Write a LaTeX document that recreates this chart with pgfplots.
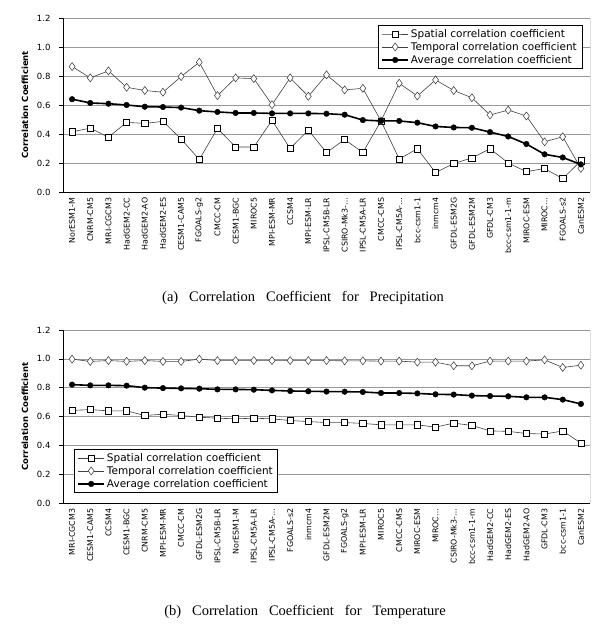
\documentclass[border=0pt]{standalone}
\usepackage{pgfplots}
\pgfplotsset{compat=1.18}
\usepackage{pgfplotstable}
\usepackage{fontspec}
\setmainfont{Liberation Serif}
\newfontfamily\dejavu{DejaVu Sans}

\pgfplotstableread{
x sp tp av
0 0.415 0.865 0.640
1 0.440 0.787 0.614
2 0.378 0.835 0.609
3 0.480 0.722 0.600
4 0.473 0.700 0.588
5 0.487 0.688 0.586
6 0.365 0.796 0.582
7 0.224 0.895 0.561
8 0.438 0.665 0.552
9 0.310 0.787 0.545
10 0.310 0.782 0.545
11 0.494 0.602 0.542
12 0.300 0.787 0.542
13 0.427 0.660 0.542
14 0.272 0.808 0.540
15 0.362 0.704 0.533
16 0.272 0.715 0.496
17 0.490 0.490 0.490
18 0.228 0.750 0.490
19 0.298 0.662 0.478
20 0.134 0.773 0.452
21 0.196 0.700 0.445
22 0.235 0.650 0.443
23 0.298 0.531 0.413
24 0.200 0.565 0.383
25 0.140 0.524 0.331
26 0.162 0.346 0.260
27 0.092 0.381 0.238
28 0.215 0.162 0.190
}\precip

\pgfplotstableread{
x sp tp av
0 0.642 0.998 0.821
1 0.648 0.982 0.816
2 0.639 0.988 0.816
3 0.639 0.982 0.814
4 0.607 0.988 0.800
5 0.616 0.982 0.797
6 0.607 0.982 0.795
7 0.595 0.998 0.793
8 0.588 0.988 0.788
9 0.584 0.988 0.788
10 0.588 0.988 0.786
11 0.584 0.988 0.781
12 0.572 0.988 0.777
13 0.565 0.988 0.775
14 0.558 0.988 0.773
15 0.558 0.986 0.772
16 0.552 0.986 0.770
17 0.542 0.984 0.763
18 0.542 0.984 0.763
19 0.542 0.977 0.760
20 0.526 0.977 0.754
21 0.554 0.952 0.752
22 0.538 0.952 0.745
23 0.500 0.984 0.742
24 0.497 0.984 0.740
25 0.482 0.984 0.733
26 0.478 0.993 0.733
27 0.500 0.940 0.717
28 0.415 0.956 0.687
}\temper

\pgfplotsset{
  corrstyle/.style={
    scale only axis,
    width=527pt,
    xmin=-0.5, xmax=28.5,
    ymin=0, ymax=1.2,
    xtick={0,...,28},
    minor xtick={-0.5,0.5,...,28.5},
    ytick={0,0.2,...,1.2},
    tick align=outside,
    major tick length=4pt,
    minor tick length=4pt,
    xtick style={draw=none},
    minor x tick style={black, line width=0.6pt},
    ytick style={black, line width=0.6pt},
    axis x line*=bottom,
    axis y line*=left,
    axis line style={black, line width=0.7pt, -},
    ymajorgrids,
    major grid style={color=black!40, line width=0.5pt},
    /pgf/number format/assume math mode=true,
    yticklabel style={font=\dejavu\fontsize{8.5}{10}\selectfont, xshift=-5pt,
      /pgf/number format/.cd, fixed, fixed zerofill, precision=1},
    xticklabel style={font=\dejavu\fontsize{7.9}{9}\selectfont, rotate=90, anchor=east, inner sep=1.5pt},
    ylabel={Correlation Coefficient},
    ylabel style={font=\dejavu\bfseries\fontsize{8.5}{10}\selectfont, at={(axis description cs:-0.072,0.5)}, anchor=center},
    legend style={font=\dejavu\fontsize{10.5}{12}\selectfont, draw=black, line width=0.6pt, fill=white,
      cells={anchor=west}, inner xsep=3pt, inner ysep=2pt, row sep=-0.5pt},
    legend image code/.code={\draw[mark repeat=2,mark phase=2] plot coordinates {(0pt,0pt)(13pt,0pt)(26pt,0pt)};},
  },
  spst/.style={color=black!75, line width=0.6pt, mark=square*, mark size=3.1pt,
    mark options={fill=white, draw=black, line width=0.6pt}},
  tpst/.style={color=black!75, line width=0.6pt, mark=diamond*, mark size=4pt,
    mark options={fill=white, draw=black!80, line width=0.5pt}},
  avst/.style={color=black, line width=1.6pt, mark=*, mark size=2.8pt,
    mark options={fill=black, draw=black, line width=0.4pt}},
}

\begin{document}
\begin{tikzpicture}
\useasboundingbox (0,0) rectangle (607pt,626pt);

\begin{axis}[corrstyle,
  at={(63pt,434pt)}, anchor=south west, height=174pt,
  xticklabels={NorESM1-M,CNRM-CM5,MRI-CGCM3,HadGEM2-CC,HadGEM2-AO,HadGEM2-ES,CESM1-CAM5,FGOALS-g2,CMCC-CM,CESM1-BGC,MIROC5,MPI-ESM-MR,CCSM4,MPI-ESM-LR,IPSL-CM5B-LR,CSIRO-Mk3-…,IPSL-CM5A-LR,CMCC-CMS,IPSL-CM5A-…,bcc-csm1-1,inmcm4,GFDL-ESM2G,GFDL-ESM2M,GFDL-CM3,bcc-csm1-1-m,MIROC-ESM,MIROC…,FGOALS-s2,CanESM2},
  legend style={at={(0.985,0.96)}, anchor=north east},
]
\addplot[spst] table[x=x, y=sp] {\precip};
\addlegendentry{Spatial correlation coefficient}
\addplot[tpst] table[x=x, y=tp] {\precip};
\addlegendentry{Temporal correlation coefficient}
\addplot[avst] table[x=x, y=av] {\precip};
\addlegendentry{Average correlation coefficient}
\draw[black, line width=0.7pt] (rel axis cs:1,0) -- (rel axis cs:1,1);
\end{axis}

\node[font=\fontsize{14.5}{17}\selectfont] at (303pt,328pt) {(a)\ \ \ Correlation\ \ \ Coefficient\ \ \ for\ \ \ Precipitation};

\begin{axis}[corrstyle,
  at={(63pt,123pt)}, anchor=south west, height=173pt,
  xticklabels={MRI-CGCM3,CESM1-CAM5,CCSM4,CESM1-BGC,CNRM-CM5,MPI-ESM-MR,CMCC-CM,GFDL-ESM2G,IPSL-CM5B-LR,NorESM1-M,IPSL-CM5A-LR,IPSL-CM5A-…,FGOALS-s2,inmcm4,GFDL-ESM2M,FGOALS-g2,MPI-ESM-LR,MIROC5,CMCC-CMS,MIROC-ESM,MIROC…,CSIRO-Mk3-…,bcc-csm1-1-m,HadGEM2-CC,HadGEM2-ES,HadGEM2-AO,GFDL-CM3,bcc-csm1-1,CanESM2},
  legend style={at={(0.021,0.058)}, anchor=south west},
]
\addplot[spst] table[x=x, y=sp] {\temper};
\addlegendentry{Spatial correlation coefficient}
\addplot[tpst] table[x=x, y=tp] {\temper};
\addlegendentry{Temporal correlation coefficient}
\addplot[avst] table[x=x, y=av] {\temper};
\addlegendentry{Average correlation coefficient}
\draw[black, line width=0.7pt] (rel axis cs:1,0) -- (rel axis cs:1,1);
\end{axis}

\node[font=\fontsize{14.5}{17}\selectfont] at (305pt,14pt) {(b)\ \ \ Correlation\ \ \ Coefficient\ \ \ for\ \ \ Temperature};
\end{tikzpicture}
\end{document}
